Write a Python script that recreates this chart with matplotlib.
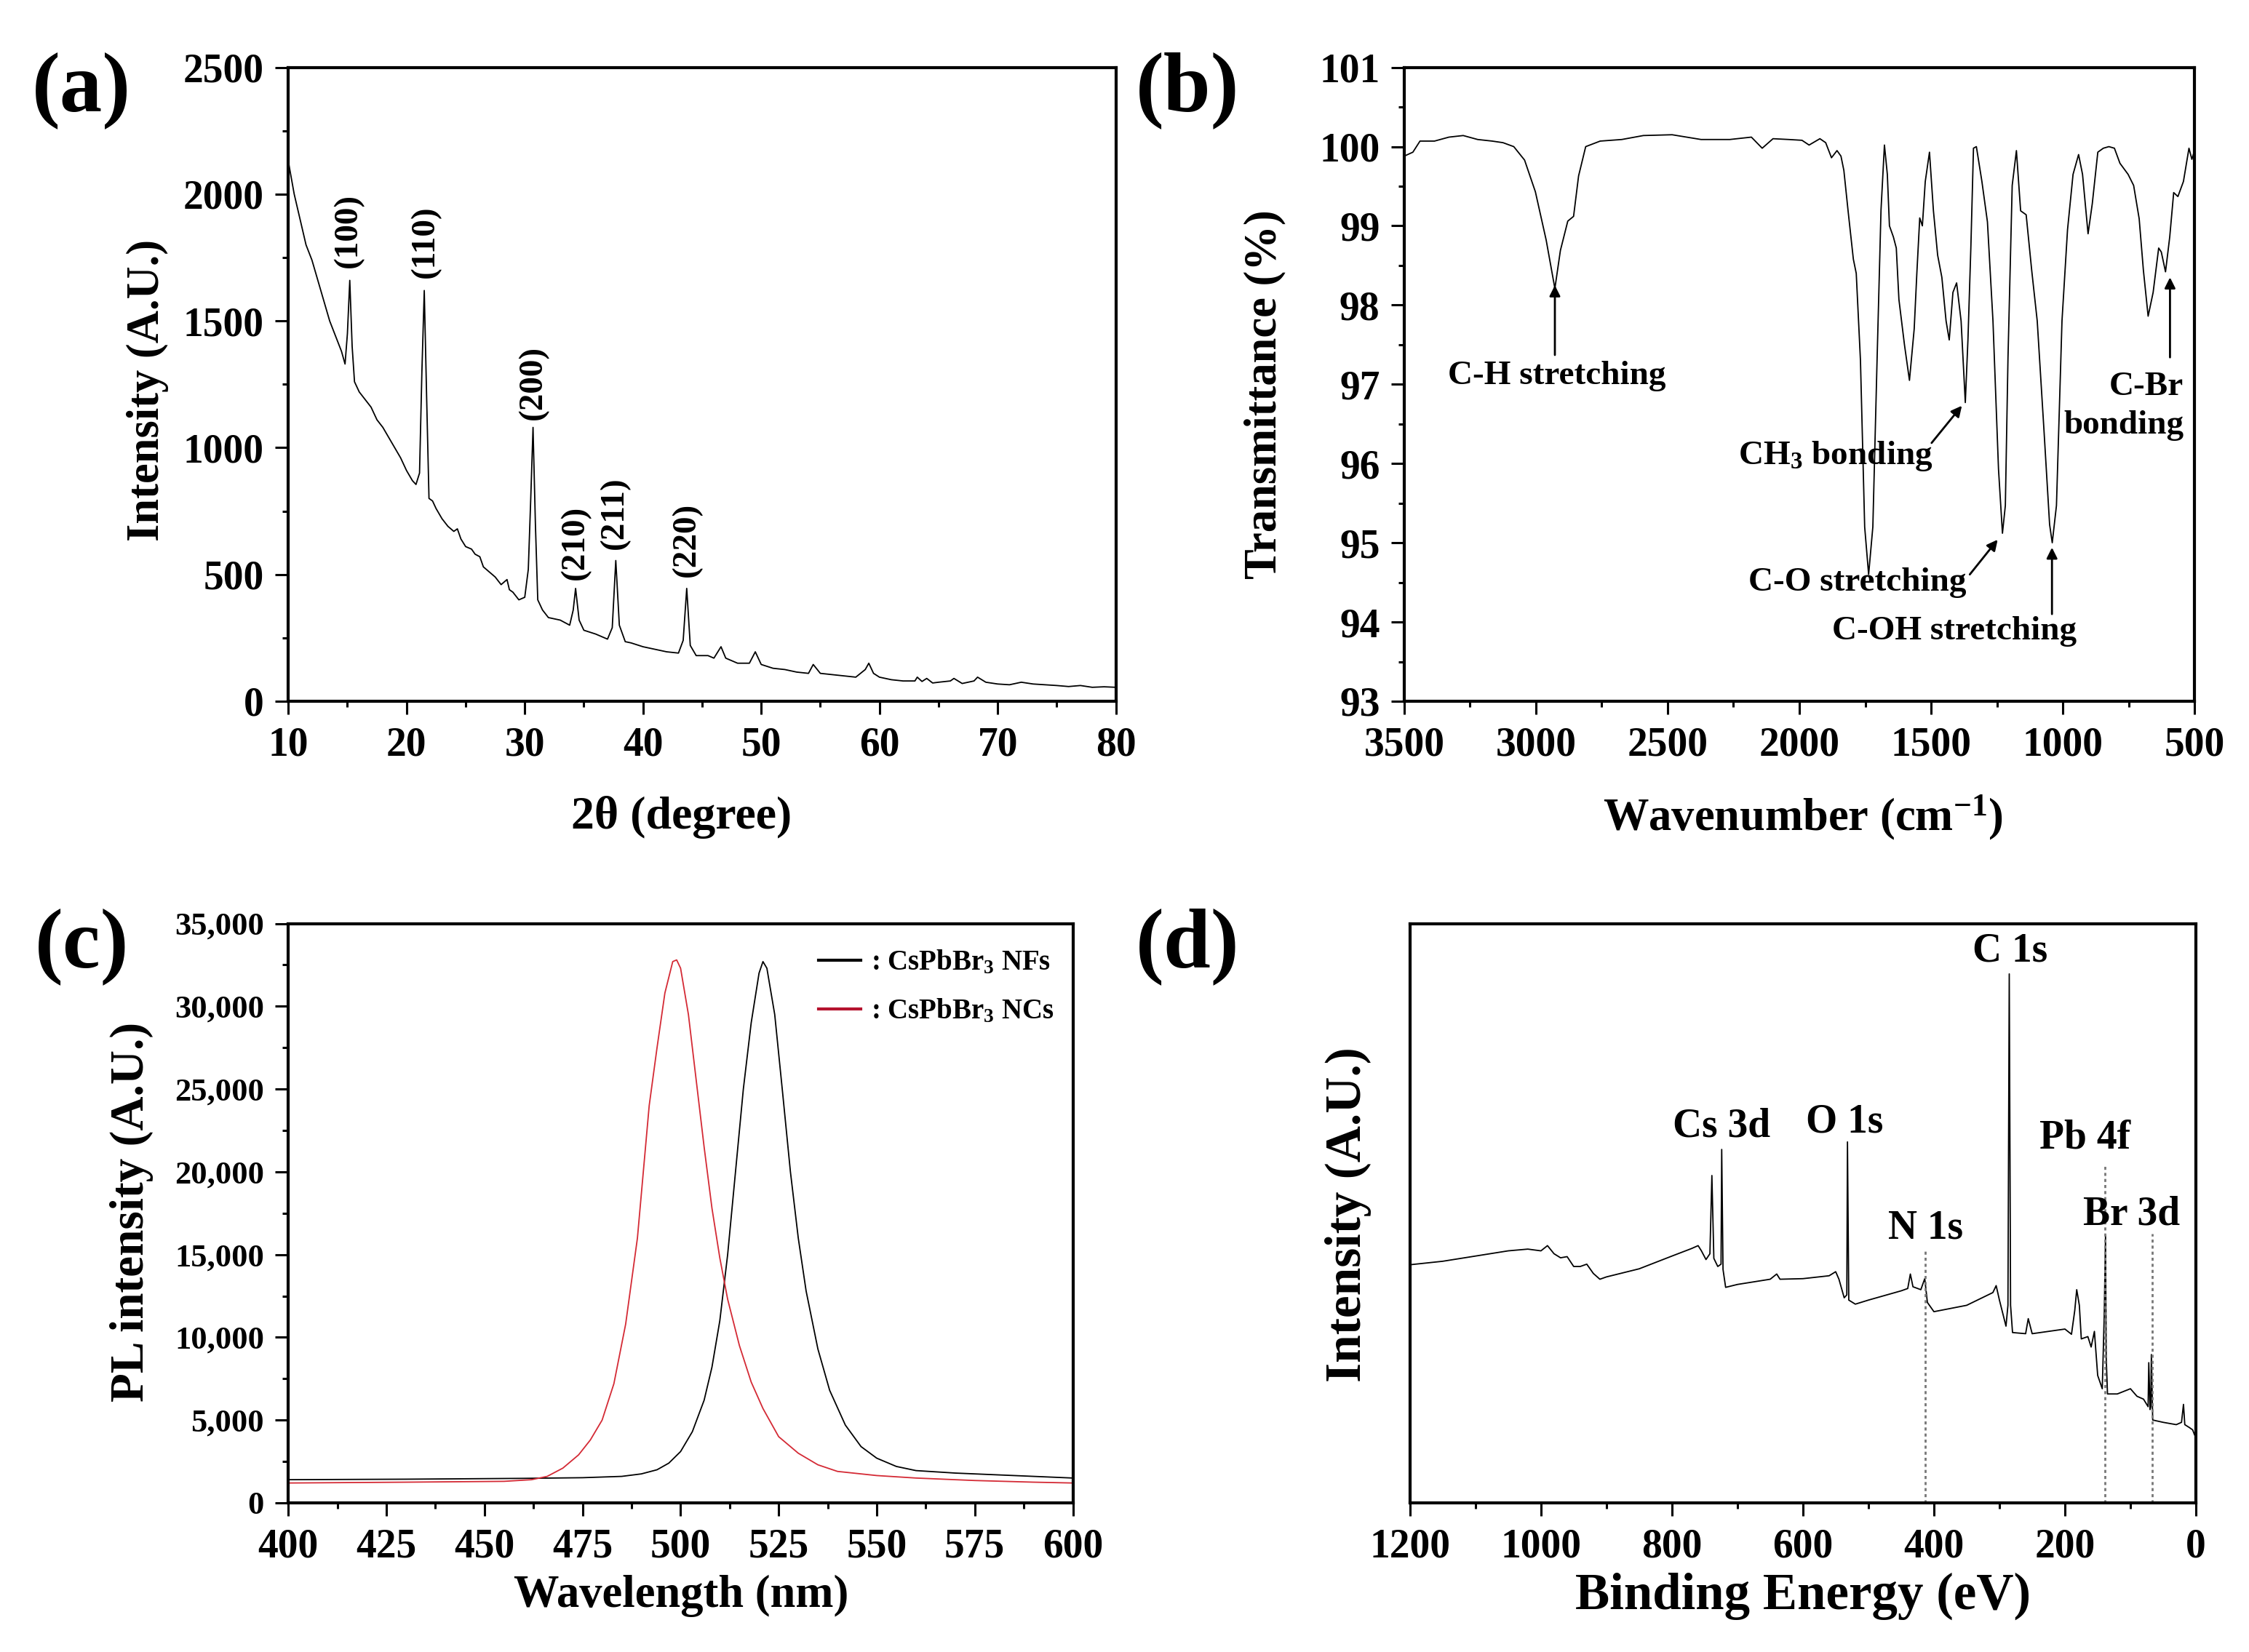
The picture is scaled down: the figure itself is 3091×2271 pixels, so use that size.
import numpy as np
import matplotlib
matplotlib.use("Agg")
import matplotlib.pyplot as plt
from matplotlib.ticker import MultipleLocator, FuncFormatter

plt.rcParams['font.family'] = ['Liberation Serif', 'DejaVu Serif']
plt.rcParams['font.weight'] = 'bold'
plt.rcParams['mathtext.fontset'] = 'custom'
plt.rcParams['mathtext.rm'] = 'Liberation Serif:bold'
plt.rcParams['mathtext.bf'] = 'Liberation Serif:bold'
plt.rcParams['mathtext.it'] = 'Liberation Serif:bold:italic'

# (a) XRD
xrd_2theta = [10.0, 10.5, 11.0, 11.5, 12.0, 12.5, 13.0, 13.5, 14.0, 14.5, 14.8, 15.0, 15.2, 15.4, 15.6,
              16.0, 16.5, 17.0, 17.5, 18.0, 18.5, 19.0, 19.5, 20.0, 20.5, 20.8, 21.1, 21.3, 21.5, 21.7,
              21.9, 22.2, 22.5, 23.0, 23.5, 24.0, 24.3, 24.6, 25.0, 25.5, 25.8, 26.2, 26.5, 27.0, 27.5,
              28.0, 28.5, 28.7, 29.0, 29.5, 30.0, 30.3, 30.5, 30.7, 30.9, 31.1, 31.5, 32.0, 33.0, 33.8,
              34.1, 34.3, 34.6, 35.0, 36.0, 37.0, 37.4, 37.7, 38.0, 38.5, 39.0, 40.0, 41.0, 42.0, 43.0,
              43.4, 43.7, 44.0, 44.5, 45.5, 46.0, 46.6, 47.0, 48.0, 49.0, 49.5, 50.0, 51.0, 52.0, 53.0,
              54.0, 54.4, 55.0, 56.0, 57.0, 58.0, 58.8, 59.1, 59.5, 60.0, 61.0, 62.0, 63.0, 63.2, 63.6,
              64.0, 64.5, 65.0, 66.0, 66.3, 67.0, 68.0, 68.3, 69.0, 70.0, 71.0, 72.0, 73.0, 74.0, 75.0,
              76.0, 77.0, 78.0, 79.0, 80.0]
xrd_int = [2130, 2000, 1900, 1800, 1740, 1660, 1580, 1500, 1440, 1380, 1330, 1450, 1660, 1400, 1260,
           1220, 1190, 1160, 1110, 1080, 1040, 1000, 960, 910, 870, 855, 900, 1300, 1620, 1200,
           800, 790, 760, 720, 690, 670, 680, 640, 610, 600, 580, 570, 530, 510, 490,
           460, 480, 440, 430, 400, 410, 520, 790, 1080, 700, 400, 360, 330, 320, 300,
           360, 445, 320, 280, 265, 245, 290, 555, 300, 235, 230, 215, 205, 195, 190,
           240, 445, 220, 180, 180, 170, 215, 170, 150, 150, 195, 145, 130, 125, 115,
           110, 145, 110, 105, 100, 95, 125, 150, 110, 95, 85, 80, 80, 95, 78,
           90, 72, 75, 80, 90, 70, 80, 95, 75, 68, 65, 75, 68, 65, 62,
           58, 62, 55, 57, 55]
hkl_labels = ['(100)', '(110)', '(200)', '(210)', '(211)', '(220)']
hkl_pos = [15.1, 21.6, 30.7, 34.3, 37.6, 43.7]
hkl_base = [1710, 1670, 1110, 480, 600, 490]

# (b) FTIR
ftir_wn = [3500, 3467, 3440, 3385, 3330, 3276, 3221, 3166, 3125, 3084, 3043, 3002, 2961, 2928, 2907,
           2879, 2857, 2838, 2811, 2756, 2674, 2592, 2483, 2373, 2264, 2182, 2141, 2100, 2040, 1990,
           1963, 1922, 1900, 1878, 1857, 1842, 1831, 1815, 1795, 1784, 1768, 1752, 1737, 1721, 1705,
           1690, 1677, 1666, 1658, 1643, 1632, 1622, 1601, 1582, 1564, 1554, 1543, 1533, 1522, 1506,
           1491, 1475, 1459, 1443, 1431, 1417, 1403, 1386, 1370, 1360, 1349, 1339, 1328, 1307, 1286,
           1265, 1244, 1229, 1218, 1208, 1192, 1176, 1160, 1139, 1118, 1097, 1071, 1050, 1040, 1024,
           1003, 982, 961, 940, 925, 904, 888, 867, 846, 825, 804, 783, 752, 731, 710,
           694, 676, 657, 636, 626, 610, 594, 579, 563, 542, 521, 510, 500]
ftir_t = [99.88, 99.93, 100.07, 100.07, 100.12, 100.14, 100.09, 100.07, 100.05, 100.0, 99.83, 99.43, 98.82, 98.21, 98.69,
          99.06, 99.12, 99.63, 100.0, 100.07, 100.09, 100.14, 100.15, 100.09, 100.09, 100.12, 99.98, 100.1, 100.09, 100.08,
          100.02, 100.1, 100.05, 99.86, 99.95, 99.88, 99.7, 99.19, 98.58, 98.4, 97.3, 95.2, 94.6, 95.2, 97.3,
          99.2, 100.02, 99.65, 99.0, 98.86, 98.72, 98.07, 97.5, 97.05, 97.7, 98.4, 99.1, 99.0, 99.56, 99.93,
          99.19, 98.63, 98.35, 97.8, 97.56, 98.16, 98.28, 97.8, 96.77, 97.56, 98.72, 99.98, 100.0, 99.56, 99.05,
          97.8, 95.93, 95.12, 95.47, 97.33, 99.51, 99.95, 99.19, 99.14, 98.44, 97.8, 96.4, 95.23, 95.0, 95.47,
          97.8, 98.95, 99.65, 99.9, 99.65, 98.9, 99.28, 99.93, 99.98, 100.0, 99.98, 99.79, 99.65, 99.51, 99.09,
          98.44, 97.86, 98.16, 98.72, 98.67, 98.42, 98.86, 99.42, 99.37, 99.56, 99.98, 99.84, 99.95]

# (c) PL
pl_nf_wl = [400, 430, 460, 475, 485, 490, 494, 497, 500, 503, 506, 508, 510, 512, 514, 516, 518, 520, 521,
            522, 524, 526, 528, 530, 532, 535, 538, 542, 546, 550, 555, 560, 570, 580, 590, 600]
pl_nf = [1400, 1430, 1480, 1520, 1600, 1750, 2000, 2400, 3100, 4300, 6200, 8200, 11000, 15000, 20000,
         25000, 29000, 32000, 32700, 32300, 29500, 24800, 20000, 16000, 12800, 9300, 6800, 4700, 3400,
         2700, 2200, 1950, 1800, 1700, 1600, 1500]
pl_nc_wl = [400, 430, 455, 462, 466, 470, 474, 477, 480, 483, 486, 489, 492, 494, 496, 498, 499, 500,
            502, 504, 506, 508, 510, 512, 515, 518, 521, 525, 530, 535, 540, 550, 560, 575, 590, 600]
pl_nc = [1200, 1250, 1300, 1400, 1600, 2100, 2900, 3800, 5000, 7200, 10800, 16000, 24000, 27500,
         30800, 32700, 32800, 32300, 29500, 25500, 21500, 17800, 14800, 12300, 9500, 7300, 5700, 4000,
         3000, 2300, 1900, 1650, 1500, 1350, 1250, 1200]

# (d) XPS survey (arbitrary units)
xps_be = [1200, 1150, 1100, 1050, 1020, 1000, 990, 980, 970, 960, 950, 940, 930, 920, 910, 900, 850, 800,
          770, 760, 755, 748, 742, 739, 736, 730, 725, 724, 722, 718, 700, 650, 640, 635, 600, 560, 550,
          545, 537, 533, 532, 530, 520, 500, 450, 440, 436, 432, 420, 414, 410, 400, 350, 310, 305, 300,
          290, 287, 285, 283, 280, 260, 256, 250, 200, 190, 185, 182, 178, 175, 165, 160, 155, 150, 143,
          140, 138, 137, 135, 120, 100, 90, 80, 73, 72, 70, 69, 68, 66, 50, 30, 22, 19, 17, 10, 5, 2, 0]
xps_int = [41.1, 41.7, 42.6, 43.5, 43.8, 43.5, 44.4, 43.0, 42.3, 42.5, 40.8, 40.8, 41.2, 39.6, 38.6, 39.0,
           40.4, 42.6, 43.9, 44.4, 43.5, 42.0, 43.0, 56.5, 42.2, 40.8, 41.2, 61.0, 40.3, 37.2, 37.7, 38.6,
           39.5, 38.6, 38.7, 39.2, 39.9, 38.6, 35.4, 35.9, 62.3, 35.0, 34.3, 35.0, 36.6, 37.0, 39.5, 37.3,
           36.8, 38.7, 34.6, 33.0, 34.1, 36.3, 37.5, 35.0, 30.5, 34.1, 91.3, 34.1, 29.4, 29.2, 31.8, 29.2,
           30.0, 29.1, 33.2, 36.8, 34.1, 28.3, 28.7, 26.9, 29.6, 22.0, 19.7, 32.3, 46.2, 25.1, 18.8, 18.8,
           19.7, 18.4, 17.9, 16.6, 24.2, 16.1, 16.6, 25.6, 14.3, 13.9, 13.5, 13.9, 17.0, 13.5, 13.0, 12.6,
           11.7, 12.1]
xps_labels = ['C 1s', 'Cs 3d', 'O 1s', 'N 1s', 'Pb 4f', 'Br 3d']
xps_label_be = [284, 724, 536, 413, 169, 98]
xps_label_y = [95.2, 65.0, 65.7, 47.4, 63.0, 49.8]
xps_guide_be = [413, 138.5, 66.6]
xps_guide_top = [44.0, 58.3, 46.5]

TICK = 40

fig = plt.figure(figsize=(30.91, 22.71), dpi=100)
W, H = 1568.0, 1152.0


def box(l, r, t, b):
    return [l / W, 1 - b / H, (r - l) / W, (b - t) / H]


def style(ax, ysize=TICK):
    for s in ax.spines.values():
        s.set_linewidth(3)
    ax.tick_params(which='both', direction='out', top=False, right=False,
                   labelsize=TICK, width=2.2, pad=11)
    ax.tick_params(which='major', length=13)
    ax.tick_params(which='minor', length=6)
    ax.tick_params(axis='x', which='both', pad=12)
    ax.tick_params(axis='y', labelsize=ysize)
    for t in ax.get_xticklabels() + ax.get_yticklabels():
        t.set_fontweight('bold')


ax1 = fig.add_axes(box(201, 778, 47, 489))
ax2 = fig.add_axes(box(979, 1530, 47, 489))
ax3 = fig.add_axes(box(201, 748, 644, 1048))
ax4 = fig.add_axes(box(983, 1531, 644, 1048))

# (a)
ax1.plot(xrd_2theta, xrd_int, color='k', lw=1.3)
ax1.set_xlim(10, 80)
ax1.set_ylim(0, 2500)
ax1.xaxis.set_major_locator(MultipleLocator(10))
ax1.xaxis.set_minor_locator(MultipleLocator(5))
ax1.yaxis.set_major_locator(MultipleLocator(500))
ax1.yaxis.set_minor_locator(MultipleLocator(250))
for lab, xp, yb in zip(hkl_labels, hkl_pos, hkl_base):
    ax1.text(xp, yb, lab, rotation=90, ha='center', va='bottom', fontsize=34, fontweight='bold')
style(ax1)

# (b)
ax2.plot(ftir_wn, ftir_t, color='k', lw=1.3)
ax2.set_xlim(3500, 500)
ax2.set_ylim(93, 101)
ax2.xaxis.set_major_locator(MultipleLocator(500))
ax2.xaxis.set_minor_locator(MultipleLocator(250))
ax2.yaxis.set_major_locator(MultipleLocator(1))
ax2.yaxis.set_minor_locator(MultipleLocator(0.5))
arw = dict(arrowstyle='-|>', color='k', lw=2, mutation_scale=22, shrinkA=0, shrinkB=0)
ax2.annotate('', xy=(2928, 98.25), xytext=(2928, 97.37), arrowprops=arw)
ax2.text(2920, 97.1, 'C-H stretching', ha='center', va='center', fontsize=34, fontweight='bold')
ax2.annotate('', xy=(1383, 96.73), xytext=(1498, 96.26), arrowprops=arw)
ax2.text(1862, 96.09, 'CH$\\mathregular{_3}$ bonding', ha='center', va='center', fontsize=34, fontweight='bold')
ax2.annotate('', xy=(1247, 95.04), xytext=(1353, 94.6), arrowprops=arw)
ax2.text(1780, 94.5, 'C-O stretching', ha='center', va='center', fontsize=34, fontweight='bold')
ax2.annotate('', xy=(1041, 94.94), xytext=(1041, 94.1), arrowprops=arw)
ax2.text(1411, 93.88, 'C-OH stretching', ha='center', va='center', fontsize=34, fontweight='bold')
ax2.annotate('', xy=(593, 98.35), xytext=(593, 97.34), arrowprops=arw)
ax2.text(541, 96.72, 'C-Br\nbonding', ha='right', va='center', multialignment='right',
         fontsize=34, fontweight='bold', linespacing=1.35)
style(ax2)

# (c)
ax3.plot(pl_nf_wl, pl_nf, color='k', lw=1.3, label=': CsPbBr$\\mathregular{_3}$ NFs')
ax3.plot(pl_nc_wl, pl_nc, color='#d42a35', lw=1.3, label=': CsPbBr$\\mathregular{_3}$ NCs')
ax3.set_xlim(400, 600)
ax3.set_ylim(0, 35000)
ax3.xaxis.set_major_locator(MultipleLocator(25))
ax3.xaxis.set_minor_locator(MultipleLocator(12.5))
ax3.yaxis.set_major_locator(MultipleLocator(5000))
ax3.yaxis.set_minor_locator(MultipleLocator(2500))
ax3.yaxis.set_major_formatter(FuncFormatter(lambda v, p: f'{int(v):,}'))
leg = ax3.legend(loc='upper right', frameon=False, fontsize=28, handlelength=1.5,
                 handletextpad=0.35, labelspacing=0.75, bbox_to_anchor=(1.008, 1.0))
for l in leg.get_lines():
    l.set_linewidth(3)
leg.get_lines()[1].set_color('#b5122e')
style(ax3, ysize=32)

# (d)
ax4.plot(xps_be, xps_int, color='k', lw=1.3)
ax4.set_xlim(1200, 0)
ax4.set_ylim(0, 100)
ax4.set_yticks([])
ax4.xaxis.set_major_locator(MultipleLocator(200))
ax4.xaxis.set_minor_locator(MultipleLocator(100))
for gx, gt in zip(xps_guide_be, xps_guide_top):
    ax4.plot([gx, gx], [0, gt], color='#777777', lw=2, ls=(0, (1.5, 1.5)))
for lab, bx, by in zip(xps_labels, xps_label_be, xps_label_y):
    ax4.text(bx, by, lab, ha='center', va='center', fontsize=40, fontweight='bold')
style(ax4)

# axis labels
fig.text(475 / W, 1 - 570 / H, '2\u03b8 (degree)', ha='center', va='center', fontsize=46, fontweight='bold')
fig.text(103 / W, 1 - 272 / H, 'Intensity (A.U.)', ha='center', va='center', rotation=90, fontsize=45, fontweight='bold')
fig.text(1257 / W, 1 - 570 / H, 'Wavenumber (cm$\\mathregular{^{-1}}$)', ha='center', va='center', fontsize=45, fontweight='bold')
fig.text(882 / W, 1 - 275 / H, 'Transmittance (%)', ha='center', va='center', rotation=90, fontsize=45, fontweight='bold')
fig.text(475 / W, 1 - 1113 / H, 'Wavelength (nm)', ha='center', va='center', fontsize=45, fontweight='bold')
fig.text(92 / W, 1 - 845 / H, 'PL intensity (A.U.)', ha='center', va='center', rotation=90, fontsize=47, fontweight='bold')
fig.text(1257 / W, 1 - 1113 / H, 'Binding Energy (eV)', ha='center', va='center', fontsize=51, fontweight='bold')
fig.text(940 / W, 1 - 847 / H, 'Intensity (A.U.)', ha='center', va='center', rotation=90, fontsize=50, fontweight='bold')

# panel letters
for lab, px, py in [('(a)', 57, 63), ('(b)', 828, 63), ('(c)', 57, 660), ('(d)', 828, 660)]:
    fig.text(px / W, 1 - py / H, lab, ha='center', va='center', fontsize=84, fontweight='bold')

fig.savefig('out.png', dpi=100)
